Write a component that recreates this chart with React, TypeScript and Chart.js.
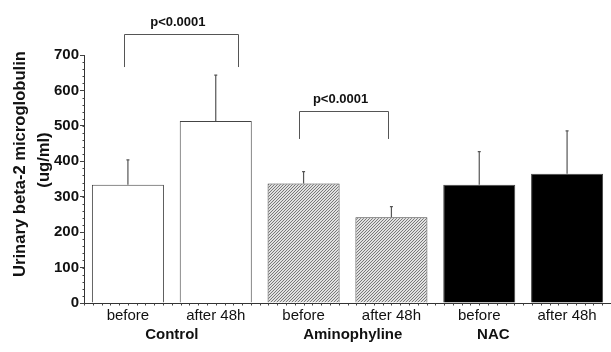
import React, { useEffect, useRef } from "react";
import { Chart, registerables } from "chart.js";

Chart.register(...registerables);

const categories = ["before", "after 48h", "before", "after 48h", "before", "after 48h"];
const means = [334, 514, 337, 242, 334, 365];
const sds = [70, 129, 34, 30, 93, 121];
const groupNames = ["Control", "Aminophyline", "NAC"];
const yTicks = [0, 100, 200, 300, 400, 500, 600, 700];
const pLabels = ["p<0.0001", "p<0.0001"];
const yTitle = ["Urinary beta-2 microglobulin", "(ug/ml)"];

const FONT = "Arial, 'Liberation Sans', sans-serif";

function makeHatch(): CanvasPattern | string {
  const c = document.createElement("canvas");
  c.width = 3;
  c.height = 3;
  const g = c.getContext("2d");
  if (!g) return "#bbb";
  const img = g.createImageData(3, 3);
  for (let y = 0; y < 3; y++) {
    for (let x = 0; x < 3; x++) {
      const k = (y * 3 + x) * 4;
      const on = (x + y) % 3 === 2;
      const v = on ? 120 : 225;
      img.data[k] = v;
      img.data[k + 1] = v;
      img.data[k + 2] = v;
      img.data[k + 3] = 255;
    }
  }
  g.putImageData(img, 0, 0);
  const p = g.createPattern(c, "repeat");
  return p || "#bbb";
}

const annotPlugin = {
  id: "annot",
  afterDraw(chart: any) {
    const ctx = chart.ctx as CanvasRenderingContext2D;
    const xs = chart.scales.x;
    const ys = chart.scales.y;
    const o = chart.options.plugins.annot;
    ctx.save();
    // error bars
    ctx.strokeStyle = "#555";
    ctx.lineWidth = 1.2;
    means.forEach((m, i) => {
      const x = xs.getPixelForValue(i);
      const y0 = ys.getPixelForValue(m);
      const y1 = ys.getPixelForValue(m + sds[i]);
      ctx.beginPath();
      ctx.moveTo(x, y0);
      ctx.lineTo(x, y1);
      ctx.moveTo(x - 1.5, y1);
      ctx.lineTo(x + 1.5, y1);
      ctx.stroke();
    });
    // brackets
    ctx.lineWidth = 1;
    ctx.strokeStyle = "#555";
    o.brackets.forEach((b: any, k: number) => {
      const xa = xs.getPixelForValue(b.from);
      const xb = xs.getPixelForValue(b.to);
      const yt = Math.round(ys.getPixelForValue(b.top)) + 0.5;
      const yb = ys.getPixelForValue(b.leg);
      ctx.beginPath();
      ctx.moveTo(Math.round(xa) + 0.5, yb);
      ctx.lineTo(Math.round(xa) + 0.5, yt);
      ctx.lineTo(Math.round(xb) + 0.5, yt);
      ctx.lineTo(Math.round(xb) + 0.5, yb);
      ctx.stroke();
      ctx.fillStyle = "#111";
      ctx.font = "bold 13px " + FONT;
      ctx.textAlign = "center";
      ctx.textBaseline = "middle";
      ctx.fillText(pLabels[k], (xa + xb) / 2 - 3, yt - 12);
    });
    // group labels
    ctx.fillStyle = "#111";
    ctx.font = "bold 15px " + FONT;
    ctx.textAlign = "center";
    ctx.textBaseline = "middle";
    groupNames.forEach((g, k) => {
      ctx.fillText(g, xs.getPixelForValue(o.groupAnchors[k]), xs.bottom - 17);
    });
    // minor ticks on y
    ctx.strokeStyle = "#444";
    ctx.lineWidth = 1;
    const ax = Math.round(ys.right) + 0.5;
    for (let v = 0; v <= 700; v += 20) {
      const y = Math.round(ys.getPixelForValue(v)) + 0.5;
      ctx.beginPath();
      ctx.moveTo(ax - 2, y);
      ctx.lineTo(ax, y);
      ctx.stroke();
    }
    // minor ticks on x
    const ay = Math.round(xs.top) + 0.5;
    for (let t = -0.5; t <= 5.5; t += 0.1) {
      const x = Math.round(xs.getPixelForValue(t)) + 0.5;
      ctx.beginPath();
      ctx.moveTo(x, ay);
      ctx.lineTo(x, ay + 2);
      ctx.stroke();
    }
    // y title: fit first line to target length
    ctx.fillStyle = "#111";
    ctx.font = "bold 16px " + FONT;
    const w16 = ctx.measureText(yTitle[0]).width;
    const size = Math.max(12, Math.min(22, (16 * o.titleLength) / w16));
    ctx.font = "bold " + size.toFixed(1) + "px " + FONT;
    const cy = (ys.top + ys.bottom) / 2 - 15;
    yTitle.forEach((line, k) => {
      ctx.save();
      ctx.translate(k === 0 ? 20 : 44, k === 0 ? cy : cy - 4);
      ctx.rotate(-Math.PI / 2);
      ctx.fillText(line, 0, 0);
      ctx.restore();
    });
    ctx.restore();
  },
};

export default function App() {
  const ref = useRef<HTMLCanvasElement | null>(null);
  useEffect(() => {
    if (!ref.current) return;
    const hatch = makeHatch();
    const chart = new Chart(ref.current, {
      type: "bar",
      data: {
        labels: categories,
        datasets: [
          {
            data: means,
            backgroundColor: ["#ffffff", "#ffffff", hatch, hatch, "#000000", "#000000"] as any,
            borderColor: "#444",
            borderWidth: 1,
            barPercentage: 0.82,
            categoryPercentage: 1,
          },
        ],
      },
      plugins: [annotPlugin as any],
      options: {
        animation: false,
        responsive: false,
        maintainAspectRatio: false,
        layout: { padding: { top: 55, right: 0, left: 0, bottom: 0 } },
        plugins: {
          legend: { display: false },
          tooltip: { enabled: false },
          annot: {
            brackets: [
              { from: -0.045, to: 1.25, top: 758, leg: 666 },
              { from: 1.95, to: 2.96, top: 542, leg: 463 },
            ],
            groupAnchors: [0.5, 2.56, 4.16],
            titleLength: 226,
          },
        } as any,
        scales: {
          x: {
            grid: { display: false, drawTicks: false, tickLength: 0 },
            border: { color: "#333", width: 1 },
            ticks: { color: "#111", font: { family: FONT, size: 15 }, padding: 4, maxRotation: 0, autoSkip: false },
            afterFit: (s: any) => {
              s.height = 49;
            },
          },
          y: {
            min: 0,
            max: 700,
            afterBuildTicks: (s: any) => {
              s.ticks = yTicks.map((v) => ({ value: v }));
            },
            grid: { drawOnChartArea: false, tickLength: 4, color: "#444" },
            border: { color: "#333", width: 1 },
            ticks: { color: "#111", font: { family: FONT, size: 15, weight: "bold" }, padding: 1 },
            afterFit: (s: any) => {
              s.width = 84;
            },
          },
        },
      },
    });
    return () => chart.destroy();
  }, []);
  return (
    <div style={{ position: "fixed", left: 0, top: 0, width: 611, height: 352, background: "#fff" }}>
      <canvas ref={ref} width={611} height={352} style={{ width: 611, height: 352 }} />
    </div>
  );
}
